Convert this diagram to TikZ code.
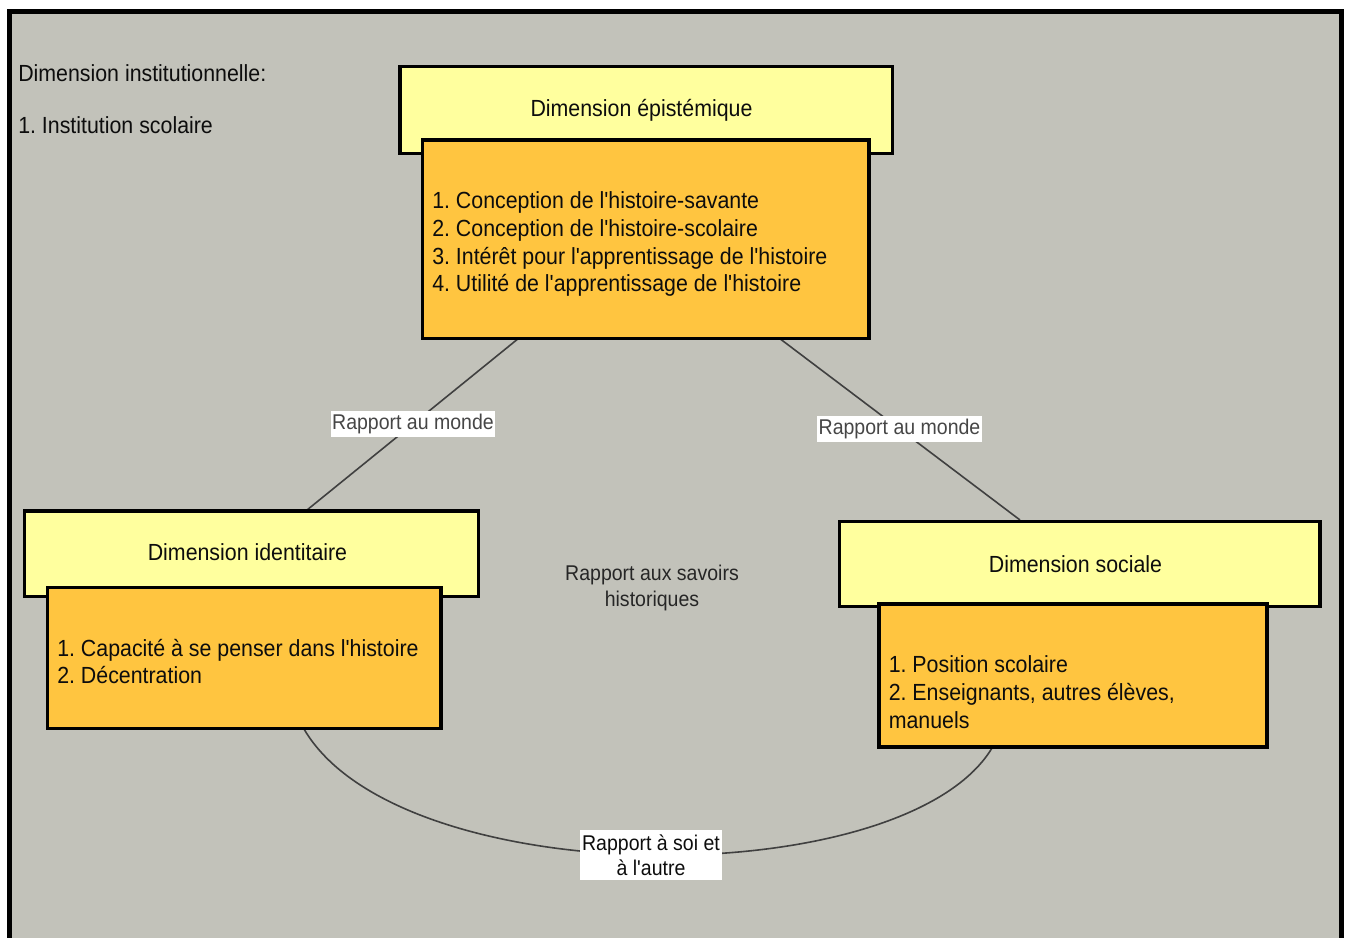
\documentclass[tikz,border=0pt]{standalone}
\usepackage{fontspec}
\newfontfamily\arialf{Liberation Sans}[FakeStretch=0.915]
\usetikzlibrary{fit}
\frenchspacing
\definecolor{bg}{RGB}{194,194,186}
\definecolor{yel}{RGB}{255,255,158}
\definecolor{org}{RGB}{255,197,64}
\definecolor{conncol}{RGB}{64,64,64}
\definecolor{labtxt}{RGB}{70,70,70}
\begin{document}
\begin{tikzpicture}[x=0.75pt,y=-0.75pt,
  box/.style={draw=black,line width=2.4pt,inner sep=0pt},
  ybox/.style={box,fill=yel},
  obox/.style={box,fill=org},
  txt/.style={inner sep=0pt,anchor=base west,text=black!95,font=\arialf\fontsize{17.5}{20.6}\selectfont},
  ttl/.style={txt,anchor=base},
  link/.style={draw=conncol,line width=1.2pt},
  lab/.style={fill=white,text=labtxt,font=\arialf\fontsize{16}{18.75}\selectfont,inner xsep=1pt,inner ysep=2pt,text height=12pt,text depth=3.5pt},
  labb/.style={fill=white,text=black!95,font=\arialf\fontsize{16}{18.75}\selectfont,align=center,inner sep=0pt,minimum width=106.5pt,minimum height=37.5pt}]
\useasboundingbox (0,0) rectangle (1349,938);
\fill[white] (0,0) rectangle (1349,938);
\draw[line width=3.6pt,fill=bg] (9.5,11.5) rectangle (1341.5,960);

% top-left text
\node[txt] (inst) at (18,81.7) {Dimension institutionnelle:};
\node[txt] (inst1) at (18,133.5) {1. Institution scolaire};

% connectors (drawn first, behind boxes)
\coordinate (a1) at (519,338);
\coordinate (a2) at (307,510);
\coordinate (b1) at (779,338);
\coordinate (b2) at (1020,520);
\coordinate (c1) at (304,729);
\coordinate (c2) at (992,748);
\draw[link] (a1) -- node[lab] (l1) {Rapport au monde} (a2);
\draw[link] (b1) -- node[lab] (l2) {Rapport au monde} (b2);
\draw[link] (c1) .. controls (400,894) and (904,894) .. node[labb] (l3) {Rapport à soi et\\à l'autre} (c2);

% epistemic
\node[ybox,fit={(400,66.5) (892.5,153.5)}] (yE) {};
\node[obox,fit={(422.7,140) (869,338.3)}] (oE) {};
\node[ttl] (tE) at (641.5,117) {Dimension épistémique};
\node[txt] (e1) at (432,209) {1. Conception de l'histoire-savante};
\node[txt] (e2) at (432,236.5) {2. Conception de l'histoire-scolaire};
\node[txt] (e3) at (432,264) {3. Intérêt pour l'apprentissage de l'histoire};
\node[txt] (e4) at (432,291.3) {4. Utilité de l'apprentissage de l'histoire};

% identity
\node[ybox,fit={(24.4,511) (478.3,596.6)}] (yI) {};
\node[obox,fit={(47.7,587.7) (441,728.3)}] (oI) {};
\node[ttl] (tI) at (247.5,560.7) {Dimension identitaire};
\node[txt] (i1) at (57,656) {1. Capacité à se penser dans l'histoire};
\node[txt] (i2) at (57,683) {2. Décentration};

% social
\node[ybox,fit={(839.5,521.5) (1320,606.5)}] (yS) {};
\node[obox,fit={(879,604) (1267,747)}] (oS) {};
\node[ttl] (tS) at (1075.5,572.8) {Dimension sociale};
\node[txt] (s1) at (888.5,672.9) {1. Position scolaire};
\node[txt] (s2) at (888.5,700.5) {2. Enseignants, autres élèves,};
\node[txt] (s3) at (888.5,728) {manuels};

% centre
\node[align=center,inner sep=0pt,text=black!85,font=\arialf\fontsize{16}{19.5}\selectfont] (mid) at (652,588) {Rapport aux savoirs\\historiques};
\end{tikzpicture}
\end{document}
